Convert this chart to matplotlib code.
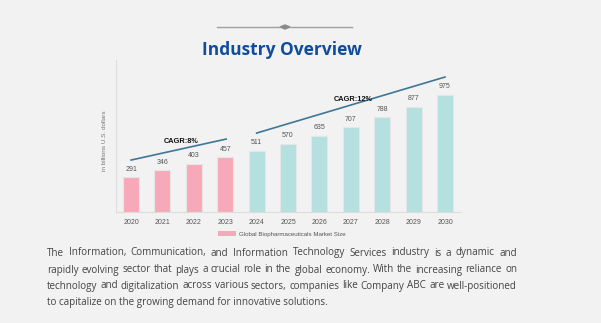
import matplotlib.pyplot as plt
from matplotlib.lines import Line2D
from matplotlib.patches import Polygon, Patch

# Data
years = ['2020', '2021', '2022', '2023', '2024', '2025', '2026', '2027', '2028', '2029', '2030']
market_size = [291, 346, 403, 457, 511, 570, 635, 707, 788, 877, 975]
is_forecast = [False, False, False, False, True, True, True, True, True, True, True]
cagr_labels = ['CAGR:8%', 'CAGR:12%']
# trend lines (x index, value) start / end
trend_x = [[0, 3.03], [4.0, 10.0]]
trend_y = [[433, 608], [658, 1125]]
legend_label = 'Global Biopharmaceuticals Market Size'
y_label = 'in billions U.S. dollars'
title = 'Industry Overview'
para_lines = [
    "The Information, Communication, and Information Technology Services industry is a dynamic and",
    "rapidly evolving sector that plays a crucial role in the global economy. With the increasing reliance on",
    "technology and digitalization across various sectors, companies like Company ABC are well-positioned",
    "to capitalize on the growing demand for innovative solutions.",
]

BG = '#f2f2f2'
PINK = '#f7a9b9'
TEAL = '#b4e0df'
W, H = 601, 323

fig = plt.figure(figsize=(W / 100, H / 100), dpi=100, facecolor=BG)

# chart axes placed in pixel terms
left, right, top, bottom = 116, 461, 60, 212
ax = fig.add_axes([left / W, 1 - bottom / H, (right - left) / W, (bottom - top) / H])
ax.set_facecolor(BG)

xs = list(range(len(years)))
colors = [TEAL if f else PINK for f in is_forecast]
ax.bar(xs, market_size, width=0.51, color=colors, edgecolor='#e6e6e6', linewidth=0.8, zorder=2)
for x, v in zip(xs, market_size):
    ax.text(x, v + 38, str(v), ha='center', va='bottom', fontsize=5.0, color='#555555',
            family='Liberation Sans')

for tx, ty in zip(trend_x, trend_y):
    ax.plot(tx, ty, color='#3f7795', lw=1.2, zorder=3)

ax.text(1.03, 555, cagr_labels[0], ha='left', va='bottom', fontsize=5.3, fontweight='bold',
        color='#111111', family='Liberation Sans')
ax.text(6.45, 905, cagr_labels[1], ha='left', va='bottom', fontsize=5.3, fontweight='bold',
        color='#111111', family='Liberation Sans')

ax.set_xlim(-0.48, 10.51)
ax.set_ylim(0, 1267)
ax.set_xticks(xs)
ax.set_xticklabels(years, fontsize=5.0, color='#555555', family='Liberation Sans')
ax.set_yticks([])
ax.tick_params(axis='x', length=0, pad=5)
for s in ['top', 'right']:
    ax.spines[s].set_visible(False)
ax.spines['left'].set_color('#dddddd')
ax.spines['bottom'].set_color('#dddddd')
ax.spines['left'].set_linewidth(0.8)
ax.spines['bottom'].set_linewidth(0.8)
ax.set_ylabel(y_label, fontsize=4.6, color='#777777', family='Liberation Sans', labelpad=5)
ax.yaxis.set_label_coords(-0.027, 0.47)

leg = ax.legend(handles=[Patch(facecolor=PINK, edgecolor='none', label=legend_label)],
                loc='upper center', bbox_to_anchor=(0.48, -0.095), frameon=False,
                handlelength=3.0, handleheight=1.0, handletextpad=0.35, borderpad=0.2,
                prop={'family': 'Liberation Sans', 'size': 4.4})
for t in leg.get_texts():
    t.set_color('#555555')

# title and decoration
fig.text(282 / W, 1 - 50 / H, title, ha='center', va='center', fontsize=12.5,
         fontweight='bold', color='#0f4c9c', family='Open Sans')
deco_y = 1 - 27 / H
fig.add_artist(Line2D([217 / W, 280 / W], [deco_y, deco_y], color='#a0a0a0', lw=1.0))
fig.add_artist(Line2D([290 / W, 352 / W], [deco_y, deco_y], color='#a0a0a0', lw=1.0))
dx, dy = 5 / W, 2 / H
fig.add_artist(Polygon([[285 / W - dx, deco_y], [285 / W, deco_y + dy], [285 / W + dx, deco_y],
                        [285 / W, deco_y - dy]], closed=True, color='#8a8a8a', transform=fig.transFigure))

# justified paragraph
fig.canvas.draw()
renderer = fig.canvas.get_renderer()
x0, x1 = 47, 517
line_ys = [253, 270, 286, 302]
pstyle = dict(color='#444444', family='Open Sans', va='center', ha='left')

# size font so the longest line fits the block width
probe = fig.text(0, 0, para_lines[1], fontsize=8, **pstyle)
base_w = probe.get_window_extent(renderer).width
probe.remove()
fsize = 8 * (x1 - x0) * 0.995 / base_w
pstyle['fontsize'] = fsize

for i, (line, ly) in enumerate(zip(para_lines, line_ys)):
    words = line.split(' ')
    if i == len(para_lines) - 1:
        fig.text(x0 / W, 1 - ly / H, line, **pstyle)
        continue
    widths = []
    for w in words:
        t = fig.text(0, 0, w, **pstyle)
        widths.append(t.get_window_extent(renderer).width)
        t.remove()
    gap = ((x1 - x0) - sum(widths)) / (len(words) - 1)
    cx = x0
    for w, wd in zip(words, widths):
        fig.text(cx / W, 1 - ly / H, w, **pstyle)
        cx += wd + gap

fig.savefig('out.png', dpi=100, facecolor=BG)
